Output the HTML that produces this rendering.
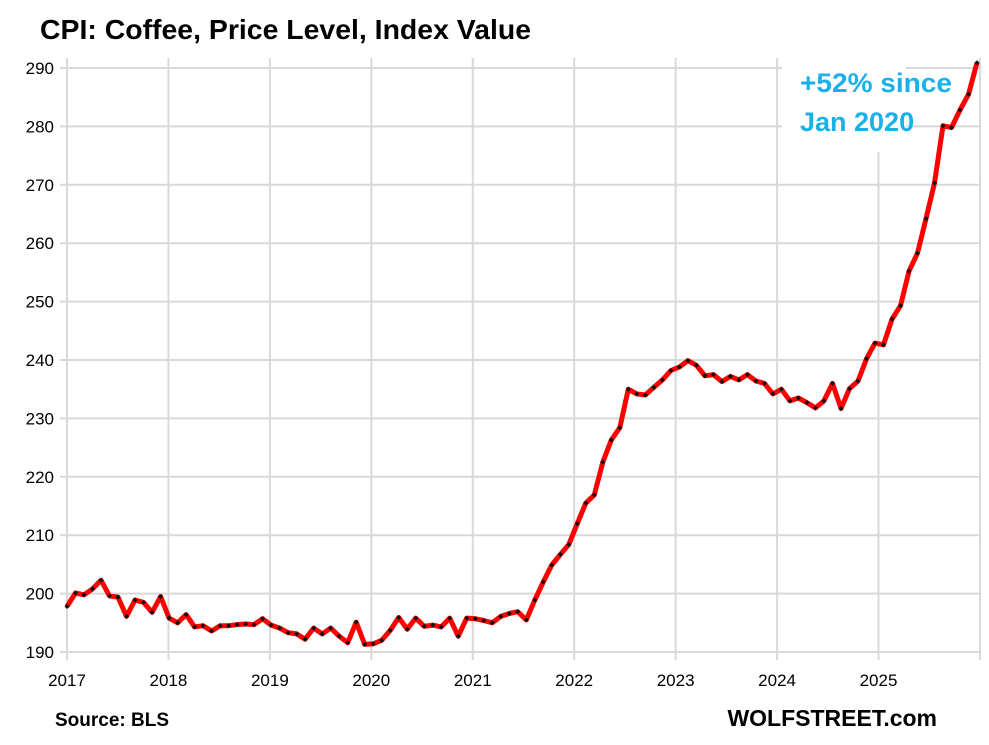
<!DOCTYPE html><html><head><style>body{margin:0;background:#fff}svg{display:block}text{font-family:"Liberation Sans",Arial,sans-serif}</style></head><body>
<svg id="s" width="989" height="745" xmlns="http://www.w3.org/2000/svg">
<text x="40" y="39" font-size="28" font-weight="bold" fill="#000" textLength="491" lengthAdjust="spacingAndGlyphs">CPI: Coffee, Price Level, Index Value</text>
<g id="grid" stroke="#d9d9d9" stroke-width="2"></g>
<g id="lab" font-size="17" fill="#000"></g>
<rect x="782" y="56" width="124" height="95" fill="#fff"/>
<text x="800" y="92" font-size="27" font-weight="bold" fill="#1ab0ea" textLength="152" lengthAdjust="spacingAndGlyphs">+52% since</text>
<text x="800" y="131" font-size="27" font-weight="bold" fill="#1ab0ea">Jan 2020</text>
<polyline id="ln" fill="none" stroke="#ff0000" stroke-width="5" stroke-linejoin="round"/>
<g id="mk" fill="#111"></g>
<text x="55" y="726" font-size="19" font-weight="bold">Source: BLS</text>
<text x="937" y="726" font-size="23" font-weight="bold" text-anchor="end">WOLFSTREET.com</text>
</svg>
<script>
var d=[197.8,200.1,199.8,200.8,202.3,199.6,199.4,196.1,198.9,198.5,196.8,199.5,
195.8,195.0,196.4,194.3,194.5,193.6,194.5,194.5,194.7,194.8,194.7,195.7,
194.6,194.1,193.3,193.1,192.2,194.1,193.1,194.1,192.7,191.6,195.1,191.3,
191.4,192.0,193.7,195.9,193.9,195.8,194.4,194.6,194.3,195.8,192.7,195.8,
195.7,195.4,195.0,196.1,196.6,196.9,195.5,198.9,202.0,204.9,206.7,208.4,
212.0,215.5,216.9,222.5,226.3,228.4,235.0,234.2,234.0,235.3,236.6,238.2,
238.8,239.9,239.1,237.3,237.5,236.3,237.2,236.6,237.5,236.4,236.0,234.2,
235.0,233.0,233.5,232.7,231.8,233.0,236.0,231.7,235.1,236.4,240.2,242.9,
242.6,247.0,249.3,255.2,258.3,264.2,270.3,280.1,279.8,282.8,285.5,290.9];
var NS="http://www.w3.org/2000/svg";
function el(t,a,p){var e=document.createElementNS(NS,t);for(var k in a)e.setAttribute(k,a[k]);document.getElementById(p).appendChild(e);return e;}
function X(i){return 67+i*8.505;}
function Y(v){return 652-(v-190)*5.84;}
for(var v=190;v<=290;v+=10){var y=Y(v);el('line',{x1:60,x2:981,y1:y,y2:y},'grid');var t=el('text',{x:54,y:y+6,'text-anchor':'end'},'lab');t.textContent=v;}
for(var k=0;k<=9;k++){var x=67+k*101.44;el('line',{x1:x,x2:x,y1:k==8?152:58,y2:660},'grid');if(k<9){var t=el('text',{x:x,y:686,'text-anchor':'middle'},'lab');t.textContent=2017+k;}}
var pts=[];for(var i=0;i<d.length;i++){var x=X(i),y=Y(d[i]);pts.push(x.toFixed(1)+','+y.toFixed(1));el('rect',{x:x-1.8,y:y-1.8,width:3.6,height:3.6,transform:'rotate(45 '+x+' '+y+')'},'mk');}
document.getElementById('ln').setAttribute('points',pts.join(' '));
</script>
</body></html>
